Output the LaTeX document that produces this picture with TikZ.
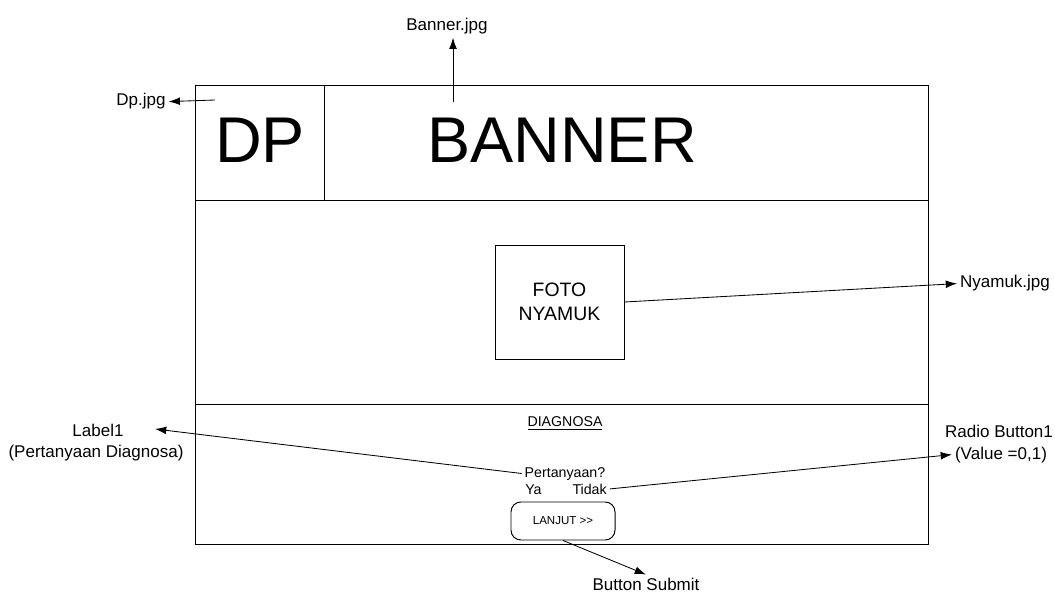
\documentclass[tikz,border=0pt]{standalone}
\usepackage{fontspec}
\setmainfont{Liberation Sans}
\usetikzlibrary{arrows.meta, positioning}
\tikzset{
  lbl/.style={font=\fontsize{12.1}{14.5}\selectfont, inner sep=2pt},
  smalltext/.style={font=\fontsize{10.1}{12}\selectfont, inner sep=2pt},
  bigtext/.style={font=\fontsize{46}{50}\selectfont, inner sep=0pt},
  pointer/.style={-{Latex[length=8pt, width=5.5pt]}, line width=0.6pt},
  wire/.style={line width=0.7pt}
}

\begin{document}
\begin{tikzpicture}[x=0.25mm, y=-0.25mm]
	\useasboundingbox (0, 0) rectangle (1055, 595);

	\draw [wire] (195, 85) rectangle (928, 544);
	\draw [wire] (195, 200) -- (928, 200);
	\draw [wire] (324, 85) -- (324, 200);
	\draw [wire] (195, 404) -- (928, 404);

	\node (DP) [bigtext, anchor=base] at (260, 163) {DP};
	\node (Banner) [bigtext, anchor=base] at (562, 163) {BANNER};

	\node (Foto) [draw, wire, align=center, font=\fontsize{13.8}{17}\selectfont, minimum width=32.25mm, minimum height=28.5mm] at (559.5, 302) {FOTO\\NYAMUK};

	\node (Diagnosa) [smalltext, anchor=base] at (565, 427) {\underline{DIAGNOSA}};
	\node (Tanya) [smalltext, anchor=base] at (565, 477) {Pertanyaan?};
	\node (Pilihan) [smalltext, anchor=base] at (566, 494) {Ya\hspace{22pt}Tidak};
	\node (Lanjut) [draw, wire, rounded corners=7pt, font=\fontsize{8.2}{10}\selectfont, minimum width=26mm, minimum height=9.5mm] at (563, 521) {LANJUT >{}>};

	\node (DpFile) [lbl, anchor=base] at (141, 106) {Dp.jpg};
	\node (BannerFile) [lbl, anchor=base] at (447, 31) {Banner.jpg};
	\node (NyamukFile) [lbl, anchor=base] at (1005, 288) {Nyamuk.jpg};
	\node (LabelName) [lbl, anchor=base] at (98, 437) {Label1};
	\node (LabelInfo) [lbl, anchor=base] at (96, 458) {(Pertanyaan Diagnosa)};
	\node (RadioName) [lbl, anchor=base] at (999, 438) {Radio Button1};
	\node (RadioValue) [lbl, anchor=base] at (1001, 459) {(Value =0,1)};
	\node (SubmitFile) [lbl, anchor=base] at (646, 590) {Button Submit};

	\coordinate (DpSrc) at (215, 100);
	\coordinate (BannerSrc) at (453, 102);
	\coordinate (LabelTip) at (155, 429);

	\draw [pointer] (DpSrc) -- (DpFile.east);
	\draw [pointer] (BannerSrc) -- (BannerSrc |- BannerFile.south);
	\draw [pointer] (Foto.east) -- (NyamukFile.west);
	\draw [pointer] (Tanya.west) -- (LabelTip);
	\draw [pointer] (Pilihan.east) -- (RadioValue.west);
	\draw [pointer] (Lanjut.south) -- (SubmitFile.north);
\end{tikzpicture}
\end{document}
